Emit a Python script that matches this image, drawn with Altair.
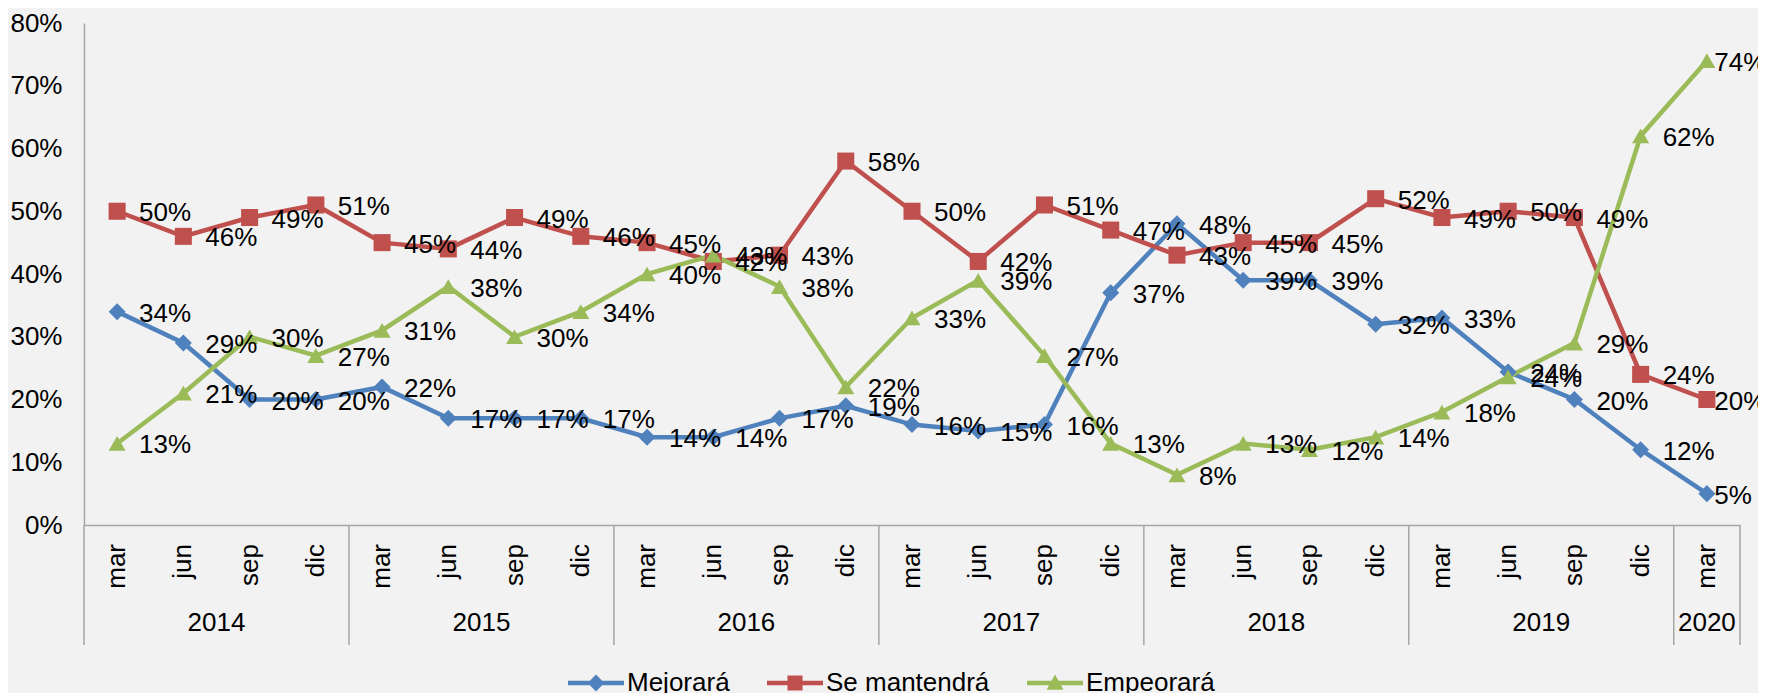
import altair as alt
import pandas as pd

# ---------------- data ----------------
years = ["2014"] * 4 + ["2015"] * 4 + ["2016"] * 4 + ["2017"] * 4 + ["2018"] * 4 + ["2019"] * 4 + ["2020"]
months = ["mar", "jun", "sep", "dic"] * 6 + ["mar"]
series = ["Mejorará", "Se mantendrá", "Empeorará"]
colors = ["#4F81BD", "#C0504D", "#9BBB59"]

mejorara = [34, 29, 20, 20, 22, 17, 17, 17, 14, 14, 17, 19, 16, 15, 16, 37, 48, 39, 39, 32, 33, 24.4, 20, 12, 5]
mantendra = [50, 46, 49, 51, 45, 44, 49, 46, 45, 42, 43, 58, 50, 42, 51, 47, 43, 45, 45, 52, 49, 50, 49, 24, 20]
empeorara = [13, 21, 30, 27, 31, 38, 30, 34, 40, 43, 38, 22, 33, 39, 27, 13, 8, 13, 12, 14, 18, 23.6, 29, 62, 74]

values = {"Mejorará": mejorara, "Se mantendrá": mantendra, "Empeorará": empeorara}

rows = []
for s in series:
    for i, v in enumerate(values[s]):
        rows.append({"idx": i, "month": months[i], "year": years[i], "serie": s, "value": v / 100.0})
df = pd.DataFrame(rows)
LAST = len(months) - 1

cats = pd.DataFrame({"idx": list(range(len(months))), "month": months, "year": years})
yr = cats.groupby("year")["idx"].agg(["min", "max"]).reset_index()
yr["start"] = yr["min"] - 0.5
yr["end"] = yr["max"] + 0.5
yr["mid"] = (yr["start"] + yr["end"]) / 2
seps = pd.DataFrame({"pos": list(yr["start"]) + [yr["end"].iloc[-1]]})

# ---------------- layout ----------------
W, H = 1656, 502
FONT = "Liberation Sans, Arial, sans-serif"
FS = 26
AXIS_GRAY = "#a6a6a6"

xscale = alt.Scale(domain=[-0.5, len(months) - 0.5], nice=False, zero=False)
yscale = alt.Scale(domain=[0, 0.8], nice=False)

x_axis = alt.Axis(labels=False, ticks=False, grid=False, title=None,
                  domainColor=AXIS_GRAY, domainWidth=1.5)
y_axis = alt.Axis(format="%", values=[i / 10 for i in range(9)], ticks=False, grid=False,
                  title=None, labelFontSize=FS, labelPadding=22, labelColor="#000000",
                  labelFont=FONT, domainColor=AXIS_GRAY, domainWidth=1.5)

color_scale = alt.Scale(domain=series, range=colors)
shape_scale = alt.Scale(domain=series, range=["diamond", "square", "triangle-up"])
legend_paths = [
    "M-1,-0.08H1V0.08H-1Z M0,-0.3L0.3,0L0,0.3L-0.3,0Z",
    "M-1,-0.08H1V0.08H-1Z M-0.27,-0.27H0.27V0.27H-0.27Z",
    "M-1,-0.08H1V0.08H-1Z M0,-0.3L0.3,0.24H-0.3Z",
]

X = alt.X("idx:Q", scale=xscale, axis=x_axis)
Y = alt.Y("value:Q", scale=yscale, axis=y_axis)

base = alt.Chart(df)

lines = base.mark_line(strokeWidth=4.5).encode(
    x=X, y=Y,
    color=alt.Color("serie:N", scale=color_scale, legend=None),
    detail="serie:N",
)

points = base.mark_point(filled=True, size=290, opacity=1).encode(
    x=X, y=Y,
    color=alt.Color("serie:N", scale=color_scale, legend=None),
    shape=alt.Shape("serie:N", scale=shape_scale, legend=None),
)

# labels sit right of each point; in the last column they are pulled in a little
labels = base.transform_calculate(
    lx=f"datum.idx == {LAST} ? datum.idx - 0.22 : datum.idx"
).mark_text(align="left", baseline="middle", dx=22, dy=2, fontSize=FS,
            font=FONT, color="#000000").encode(
    x=alt.X("lx:Q", scale=xscale, axis=x_axis),
    y=Y,
    text=alt.Text("value:Q", format=".0%"),
)

sep_rules = alt.Chart(seps).mark_rule(color=AXIS_GRAY, strokeWidth=1.5).encode(
    x=alt.X("pos:Q", scale=xscale, axis=x_axis),
    y=alt.value(H),
    y2=alt.value(H + 120),
)

month_text = alt.Chart(cats).mark_text(angle=270, align="right", baseline="middle",
                                       fontSize=FS, font=FONT, color="#000000").encode(
    x=X,
    y=alt.value(H + 19),
    text="month:N",
)

year_text = alt.Chart(yr).mark_text(align="center", baseline="middle", fontSize=FS,
                                    font=FONT, color="#000000").encode(
    x=alt.X("mid:Q", scale=xscale, axis=x_axis),
    y=alt.value(H + 98),
    text="year:N",
)

legend_layer = base.mark_point(filled=True, opacity=1).encode(
    color=alt.Color("serie:N", scale=alt.Scale(domain=series, range=colors),
                    legend=alt.Legend(title=None)),
    shape=alt.Shape("serie:N", scale=alt.Scale(domain=series, range=legend_paths),
                    legend=alt.Legend(title=None)),
).transform_filter("false")

chart = alt.layer(
    lines, sep_rules, points, labels, month_text, year_text, legend_layer
).resolve_scale(
    color="independent", shape="independent"
).properties(
    width=W, height=H,
    background="#f2f2f2",
    padding={"left": 76, "top": 15, "right": 18, "bottom": 168},
    autosize=alt.AutoSizeParams(type="none"),
).configure(
    font=FONT,
).configure_view(
    stroke=None,
).configure_legend(
    orient="none",
    legendX=484,
    legendY=632,
    direction="horizontal",
    symbolSize=3136,
    symbolStrokeWidth=0,
    symbolOpacity=1,
    labelFontSize=FS,
    labelFont=FONT,
    labelColor="#000000",
    labelOffset=3,
    labelLimit=0,
    columnPadding=37,
)

chart.save("out.html", embed_options={"renderer": "svg", "actions": False})
